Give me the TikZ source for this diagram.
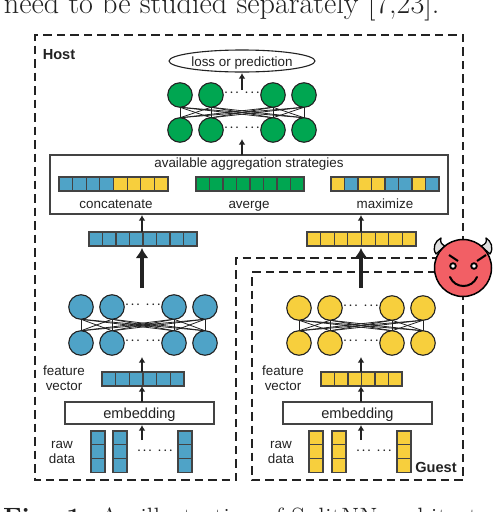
\documentclass[tikz,border=0pt]{standalone}
\usepackage{fontspec}
\setsansfont{Liberation Sans}
\usetikzlibrary{arrows.meta,backgrounds,calc,shapes.geometric}
\definecolor{cblue}{HTML}{4FA3C7}
\definecolor{cyel}{HTML}{F7CF3D}
\definecolor{cgreen}{HTML}{00A651}
\definecolor{cred}{HTML}{F25F65}
\definecolor{cline}{HTML}{222222}
\tikzset{
  x=1pt,y=-1pt,
  every node/.style={inner sep=0pt,outer sep=0pt},
  lab/.style={font=\sffamily\fontsize{13.4}{15}\selectfont,text=cline,anchor=base},
  labin/.style={font=\sffamily\fontsize{13.4}{15}\selectfont,text=cline,text height=10pt,text depth=0pt},
  labbig/.style={font=\sffamily\fontsize{14.6}{16}\selectfont,text=cline,text height=10pt,text depth=0pt},
  labbold/.style={font=\sffamily\bfseries\fontsize{14.6}{16}\selectfont,text=cline,anchor=base},
  dots/.style={font=\boldmath\fontsize{11}{13}\selectfont,text=cline,anchor=center},
  neuron/.style={circle,draw=cline,line width=1.1pt,minimum size=24.5pt},
  cellbox/.style={draw=cline!85,line width=1.1pt,inner sep=0pt},
  barbox/.style={inner sep=0pt},
  boxed/.style={draw=cline!85,line width=1.1pt,fill=white},
  guard/.style={dash pattern=on 8.5pt off 5pt,line width=1.3pt,draw=cline},
  thin arrow/.style={draw=cline,line width=1.3pt,-{Latex[length=5.5pt,width=6.5pt]}},
  thick arrow/.style={draw=cline,line width=3.4pt,-{Latex[length=10pt,width=13pt]}},
  edge/.style={draw=cline,line width=0.8pt},
  pagetext/.style={anchor=base west,font=\fontsize{30.2}{32}\selectfont,text=cline},
  captext/.style={anchor=base west,font=\fontsize{26.5}{28}\selectfont,text=cline},
}
% cell bar: name, x1, x2, y1, y2, count, colours
\newcommand{\cellbar}[7]{%
  \node[barbox,minimum width={#3-#2},minimum height={#5-#4}] (#1) at ({(#2+#3)/2},{(#4+#5)/2}) {};
  \foreach \c [count=\i from 0] in {#7} {
    \pgfmathsetmacro{\w}{(#3-#2)/#6}
    \node[cellbox,fill=\c,minimum width=\w pt,minimum height={#5-#4}] (#1-\i) at ({#2+(\i+0.5)*\w},{(#4+#5)/2}) {};
  }%
}
% raw data column: name, x1, colour
\newcommand{\rawcol}[3]{%
  \foreach \i in {0,1,2} {
    \node[cellbox,fill=#3,minimum width=14pt,minimum height=13.7pt] (#1-\i) at ({#2+7},{431+6.85+\i*13.7}) {};
  }%
}
\newcommand{\gapdots}{$\cdots$\hspace{6pt}$\cdots$}
% network: prefix, x1..x4, ytop, ybot, colour
\newcommand{\netw}[8]{%
  \node[neuron,fill=#8] (#1t1) at (#2,#6) {};
  \node[neuron,fill=#8] (#1t2) at (#3,#6) {};
  \node[neuron,fill=#8] (#1t3) at (#4,#6) {};
  \node[neuron,fill=#8] (#1t4) at (#5,#6) {};
  \node[neuron,fill=#8] (#1b1) at (#2,#7) {};
  \node[neuron,fill=#8] (#1b2) at (#3,#7) {};
  \node[neuron,fill=#8] (#1b3) at (#4,#7) {};
  \node[neuron,fill=#8] (#1b4) at (#5,#7) {};
  \node[dots] (#1d1) at ({(#3+#4)/2},#6-2) {\gapdots};
  \node[dots] (#1d2) at ({(#3+#4)/2},#7-2) {\gapdots};
  \begin{pgfonlayer}{background}
    \foreach \a in {1,2,3,4} \foreach \b in {1,2,3,4}
      \draw[edge] (#1t\a.south) -- (#1b\b.north);
  \end{pgfonlayer}%
}
\begin{document}
\begin{tikzpicture}
\useasboundingbox (0,0) rectangle (494,512);
\clip (0,0) rectangle (494,512);

% page text around the figure
\node[pagetext] (toptext) at (4,13) {need to be studied separately [7,23].};
\node[captext] (bottext) at (3,526) {\textbf{Fig. 1.} An illustration of SplitNN architect};

% boundaries
\coordinate (hA) at (35,35);
\coordinate (hB) at (463,35);
\coordinate (hC) at (463,258);
\coordinate (hD) at (236,258);
\coordinate (hE) at (236,480);
\coordinate (hF) at (35,480);
\draw[guard] (hC) -- (hB) -- (hA) -- (hF) -- (hE) -- (hD) -- (hC);
\coordinate (gA) at (252,272);
\coordinate (gB) at (463,272);
\coordinate (gC) at (463,480);
\coordinate (gD) at (252,480);
\draw[guard] (gB) -- (gA) -- (gD) -- (gC) -- (gB);
\node[labbold] (host) at (59,59) {Host};
\node[labbold] (guest) at (436,472) {Guest};

% top
\node[ellipse,draw=cline,line width=1.1pt,fill=white,minimum width=146pt,minimum height=22pt,labin] (loss) at (242,61) {loss or prediction};
\netw{g}{180}{211}{273}{304}{95}{130}{cgreen}
\coordinate (gOut) at (242,90);
\coordinate (gIn) at (242,139);
\draw[thin arrow] (gOut) -- ($(loss.south -| gOut)+(0,1)$);

% aggregation
\node[boxed,minimum width=398pt,minimum height=59pt] (agg) at (249,184.5) {};
\draw[thin arrow] (agg.north -| gIn) -- (gIn);
\node[lab] (aggt) at (249,167.5) {available aggregation strategies};
\cellbar{ca}{59}{168}{177}{191}{8}{cblue,cblue,cblue,cblue,cyel,cyel,cyel,cyel}
\cellbar{av}{196}{304}{177}{191}{8}{cgreen,cgreen,cgreen,cgreen,cgreen,cgreen,cgreen,cgreen}
\cellbar{ma}{331}{439}{177}{191}{8}{cyel,cblue,cyel,cyel,cblue,cblue,cyel,cblue}
\node[lab] (cal) at (116,208) {concatenate};
\node[lab] (avl) at (249,208) {averge};
\node[lab] (mal) at (385,208) {maximize};

% middle bars
\cellbar{mb}{89}{197}{232}{246}{8}{cblue,cblue,cblue,cblue,cblue,cblue,cblue,cblue}
\cellbar{my}{307}{416}{232}{246}{8}{cyel,cyel,cyel,cyel,cyel,cyel,cyel,cyel}
\coordinate (bx) at (142,0);
\coordinate (yx) at (361,0);
\draw[thin arrow] (mb.north -| bx) -- ($(agg.south -| bx)+(0,1)$);
\draw[thin arrow] (my.north -| yx) -- ($(agg.south -| yx)+(0,1)$);

% blue party
\netw{b}{81}{112}{174}{205}{307}{343}{cblue}
\coordinate (bNetTop) at (142,288);
\coordinate (bNetBot) at (142,357);
\draw[thick arrow] (bNetTop) -- ($(mb.south -| bx)+(0,2)$);
\cellbar{fb}{102}{184}{372}{386}{6}{cblue,cblue,cblue,cblue,cblue,cblue}
\draw[thin arrow] (fb.north -| bx) -- (bNetBot);
\node[boxed,minimum width=149pt,minimum height=22pt,labbig] (eb) at (139.5,413) {embedding};
\draw[thin arrow] (eb.north -| bx) -- (fb.south -| bx);
\coordinate (bRaw) at (142,440);
\draw[thin arrow] (bRaw) -- ($(eb.south -| bx)+(0,1)$);
\node[lab] (bf1) at (64,375) {feature};
\node[lab] (bf2) at (64,390) {vector};
\node[lab] (br1) at (62,448) {raw};
\node[lab] (br2) at (62,463) {data};
\rawcol{br-a}{91}{cblue}
\rawcol{br-b}{113}{cblue}
\rawcol{br-c}{178}{cblue}
\node[dots] (brd) at (155,451) {\gapdots};

% yellow party
\netw{y}{299}{330}{392}{423}{308}{343}{cyel}
\coordinate (yNetTop) at (361,288);
\coordinate (yNetBot) at (361,357);
\draw[thick arrow] (yNetTop) -- ($(my.south -| yx)+(0,2)$);
\cellbar{fy}{321}{402}{372}{386}{6}{cyel,cyel,cyel,cyel,cyel,cyel}
\draw[thin arrow] (fy.north -| yx) -- (yNetBot);
\node[boxed,minimum width=149pt,minimum height=22pt,labbig] (ey) at (357.5,413) {embedding};
\draw[thin arrow] (ey.north -| yx) -- (fy.south -| yx);
\coordinate (yRaw) at (361,440);
\draw[thin arrow] (yRaw) -- ($(ey.south -| yx)+(0,1)$);
\node[lab] (yf1) at (283,375) {feature};
\node[lab] (yf2) at (283,390) {vector};
\node[lab] (yr1) at (281,448) {raw};
\node[lab] (yr2) at (281,463) {data};
\rawcol{yr-a}{309}{cyel}
\rawcol{yr-b}{332}{cyel}
\rawcol{yr-c}{397}{cyel}
\node[dots] (yrd) at (374,451) {\gapdots};

% devil
\draw[line width=1.3pt,draw=black,fill=gray!25,line join=round] (436,254) .. controls (432,248) and (435,241) .. (441,238) .. controls (440,242) and (441,244) .. (445,246) -- cycle;
\draw[line width=1.3pt,draw=black,fill=gray!25,line join=round] (490,254) .. controls (494,248) and (491,241) .. (486,238) .. controls (487,242) and (486,244) .. (481,246) -- cycle;
\draw[line width=1.5pt,draw=black,fill=cred] (463,268) circle (28.5);
\draw[line width=1.8pt,black,fill=white] (453,266) circle (2.8);
\draw[line width=1.8pt,black,fill=white] (474,266) circle (2.8);
\draw[line width=2pt,black] (449,255) -- (458,261);
\draw[line width=2pt,black] (477,261) -- (486,255);
\draw[line width=2pt,black,line cap=round] (450,277) .. controls (455,289) and (472,289) .. (477,277);
\end{tikzpicture}
\end{document}
